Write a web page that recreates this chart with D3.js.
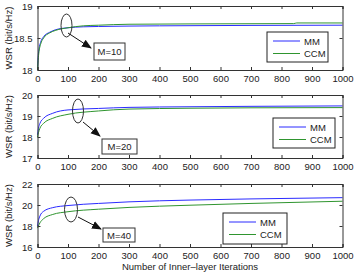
<!DOCTYPE html>
<html>
<head>
<meta charset="utf-8">
<script src="https://cdn.jsdelivr.net/npm/d3@7"></script>
<style>
  body { margin: 0; background: #fff; }
  text { font-family: "Liberation Sans", Arial, sans-serif; fill: #222; }
</style>
</head>
<body>
<svg width="360" height="274"></svg>
<script>
const svg = d3.select('svg')

// iterations / WSR values
const mm10 = [[0,18.0],[2,18.2],[5,18.33],[10,18.43],[20,18.52],[40,18.59],[60,18.63],[100,18.66],[150,18.675],[200,18.68],[400,18.69],[1000,18.70]]
const ccm10 = [[0,18.0],[2,18.15],[5,18.29],[10,18.4],[20,18.5],[40,18.58],[60,18.62],[100,18.66],[150,18.69],[200,18.70],[300,18.715],[500,18.72],[840,18.725],[850,18.735],[1000,18.735]]
const mm20 = [[0,18.1],[3,18.4],[8,18.65],[20,18.89],[50,19.13],[100,19.29],[200,19.36],[300,19.41],[500,19.44],[700,19.46],[1000,19.48]]
const ccm20 = [[0,18.0],[3,18.2],[8,18.42],[20,18.65],[50,18.89],[100,19.08],[200,19.24],[300,19.33],[500,19.37],[700,19.39],[1000,19.40]]
const mm40 = [[0,18.0],[3,18.5],[8,18.95],[20,19.4],[50,19.75],[100,19.95],[200,20.15],[300,20.3],[500,20.47],[700,20.58],[1000,20.7]]
const ccm40 = [[0,17.8],[3,18.0],[8,18.3],[20,18.7],[50,19.1],[100,19.36],[200,19.6],[300,19.77],[500,19.98],[700,20.15],[1000,20.36]]

const xTicks = d3.range(0, 1001, 100)
const panels = [
  { top: 6, bottom: 70, domain: [18, 19], yTicks: [18, 18.5, 19], fmt: d3.format('.3~f'), series: [mm10, ccm10], label: 'M=10',
    ell: [66.5, 25.5, 5.5, 11.5], arrow: [68, 33, 91, 48], box: [94, 43, 31, 17], legend: [267, 32, 61, 30] },
  { top: 95, bottom: 158, domain: [17, 20], yTicks: [17, 18, 19, 20], fmt: d3.format('d'), series: [mm20, ccm20], label: 'M=20',
    ell: [78, 111, 5.5, 12], arrow: [83, 122, 100, 136], box: [102, 139, 35, 15], legend: [273, 118, 62, 30] },
  { top: 184, bottom: 247, domain: [16, 22], yTicks: [16, 18, 20, 22], fmt: d3.format('d'), series: [mm40, ccm40], label: 'M=40',
    ell: [71, 209.5, 6.5, 12.5], arrow: [78, 217, 101, 229], box: [103, 228, 32, 14], legend: [223, 213, 64, 31] }
]
const names = ['MM', 'CCM']
const colors = ['#2b2bff', '#2f952f']

const x = d3.scaleLinear().domain([0, 1000]).range([37.5, 342.5])

svg.append('defs').append('marker')
   .attr('id', 'arr').attr('viewBox', '0 0 10 10').attr('refX', 9).attr('refY', 5)
   .attr('markerWidth', 10).attr('markerHeight', 10).attr('orient', 'auto')
   .append('path').attr('d', 'M0,1 L10,5 L0,9 Z').attr('fill', '#111')

panels.forEach(p => {
  const y = d3.scaleLinear().domain(p.domain).range([p.bottom, p.top])
  const g = svg.append('g')

  const line = d3.line().x(d => x(d[0])).y(d => y(d[1])).curve(d3.curveMonotoneX)
  p.series.forEach((s, i) => {
    g.append('path').attr('d', line(s)).attr('fill', 'none')
     .attr('stroke', colors[i]).attr('stroke-width', 1)
  })

  // matlab style axes with inward ticks
  const axB = d3.axisBottom(x).tickValues(xTicks).tickSize(-3).tickPadding(5).tickFormat(d3.format('d'))
  const axT = d3.axisTop(x).tickValues(xTicks).tickSize(-3).tickFormat('')
  const axL = d3.axisLeft(y).tickValues(p.yTicks).tickSize(-3).tickPadding(5).tickFormat(p.fmt)
  const axR = d3.axisRight(y).tickValues(p.yTicks).tickSize(-3).tickFormat('')
  g.append('g').attr('transform', `translate(0,${p.bottom})`).call(axB)
  g.append('g').attr('transform', `translate(0,${p.top})`).call(axT)
  g.append('g').attr('transform', `translate(${x.range()[0]},0)`).call(axL)
  g.append('g').attr('transform', `translate(${x.range()[1]},0)`).call(axR)
  g.selectAll('.domain').attr('stroke', '#333')
  g.selectAll('.tick line').attr('stroke', '#333')
  g.selectAll('.tick text').style('font-size', '9.5px').attr('fill', '#222')

  g.append('text')
   .attr('transform', `translate(12,${(p.top + p.bottom) / 2}) rotate(-90)`)
   .attr('text-anchor', 'middle').style('font-size', '9.5px')
   .text('WSR (bit/s/Hz)')

  // annotation
  g.append('ellipse').attr('cx', p.ell[0]).attr('cy', p.ell[1]).attr('rx', p.ell[2]).attr('ry', p.ell[3])
   .attr('fill', 'none').attr('stroke', '#333')
  g.append('line').attr('x1', p.arrow[0]).attr('y1', p.arrow[1]).attr('x2', p.arrow[2]).attr('y2', p.arrow[3])
   .attr('stroke', '#111').attr('marker-end', 'url(#arr)')
  g.append('rect').attr('x', p.box[0]).attr('y', p.box[1]).attr('width', p.box[2]).attr('height', p.box[3])
   .attr('fill', '#fff').attr('stroke', '#333')
  g.append('text').attr('x', p.box[0] + p.box[2] / 2).attr('y', p.box[1] + p.box[3] / 2 + 3.5)
   .attr('text-anchor', 'middle').style('font-size', '9.5px').text(p.label)

  // legend
  const [lx, ly, lw, lh] = p.legend
  g.append('rect').attr('x', lx).attr('y', ly).attr('width', lw).attr('height', lh)
   .attr('fill', '#fff').attr('stroke', '#222')
  names.forEach((n, i) => {
    const yy = ly + 9 + i * 12.5
    g.append('line').attr('x1', lx + 6).attr('x2', lx + 33).attr('y1', yy).attr('y2', yy)
     .attr('stroke', colors[i]).attr('stroke-width', 1)
    g.append('text').attr('x', lx + 37).attr('y', yy + 3.5).style('font-size', '9.5px').text(n)
  })
})

svg.append('text').attr('x', 190).attr('y', 270).attr('text-anchor', 'middle')
   .style('font-size', '9.5px').text('Number of Inner\u2013layer Iterations')
</script>
</body>
</html>
